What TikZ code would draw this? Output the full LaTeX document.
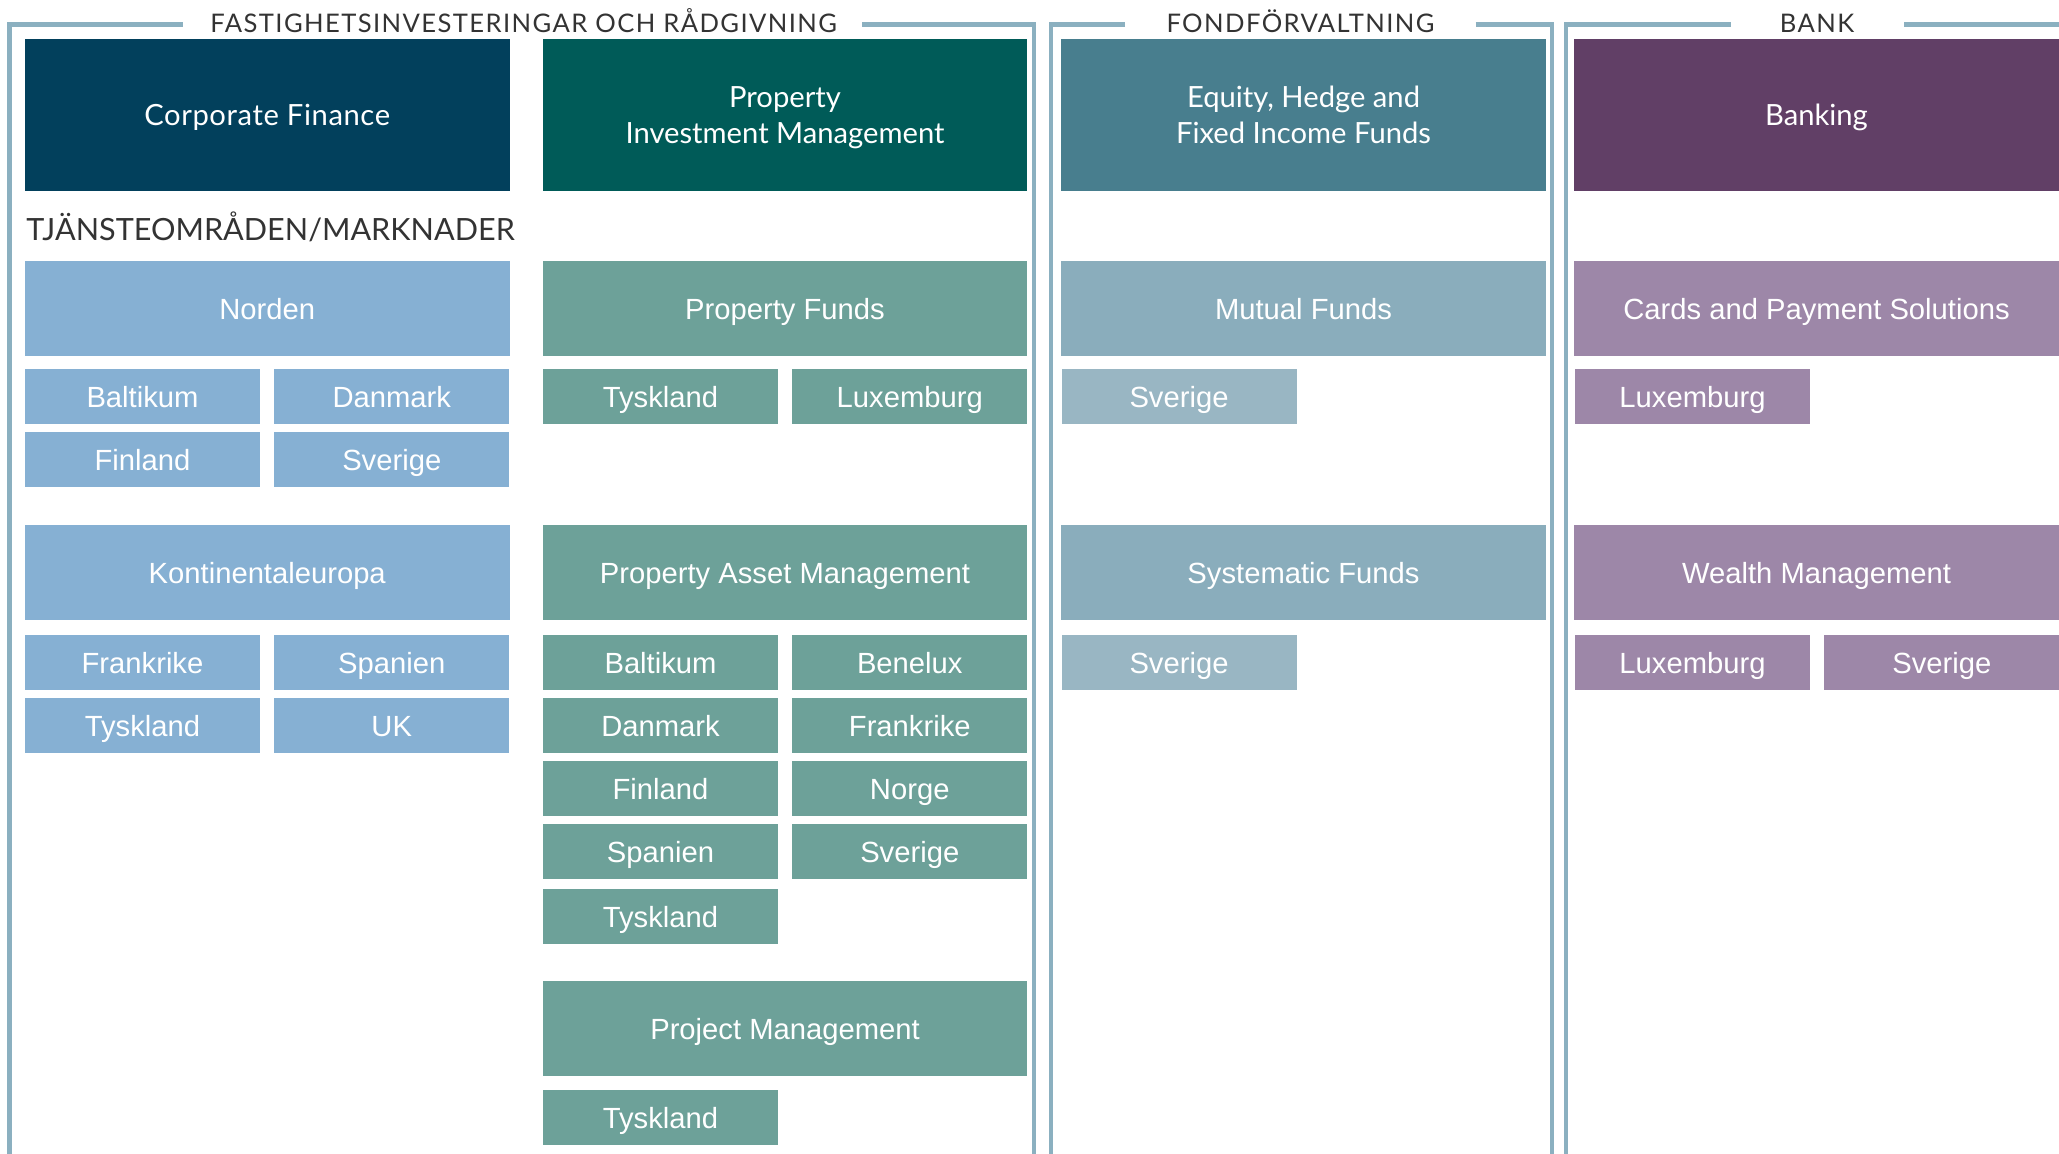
\documentclass[tikz,border=0pt]{standalone}
\usepackage{fontspec}
\setmainfont{Liberation Sans}
\newfontfamily\gillfont{Lato}
\newfontfamily\gilltitle[LetterSpace=5.5]{Lato}

\definecolor{cfnavy}{HTML}{02405C}
\definecolor{pimteal}{HTML}{005B58}
\definecolor{eqteal}{HTML}{487E8E}
\definecolor{bankpurple}{HTML}{613F66}
\definecolor{nordblue}{HTML}{86B0D3}
\definecolor{propteal}{HTML}{6DA199}
\definecolor{mutualblue}{HTML}{8AADBC}
\definecolor{sverigeblue}{HTML}{99B6C3}
\definecolor{cardpurple}{HTML}{9D87A8}
\definecolor{frameblue}{HTML}{8BB0C0}
\definecolor{titlegrey}{HTML}{333333}

\tikzstyle{topbox} = [rectangle, inner sep=0pt, outer sep=0pt, minimum width=242.25pt, minimum height=75.85pt, text=white, align=center, text depth=0pt, font=\gillfont\fontsize{14.6}{18.3}\selectfont]
\tikzstyle{headbox} = [rectangle, inner sep=0pt, outer sep=0pt, minimum width=242.25pt, minimum height=47.5pt, text=white, text height=11.45pt, text depth=0pt, font=\fontsize{14.6}{17}\selectfont]
\tikzstyle{subbox} = [rectangle, inner sep=0pt, outer sep=0pt, minimum width=117.5pt, minimum height=27.35pt, text=white, text height=11.45pt, text depth=0pt, font=\fontsize{14.6}{17}\selectfont]
\tikzstyle{title} = [inner sep=0pt, anchor=base, text=titlegrey, font=\gilltitle\fontsize{12.8}{14}\selectfont]
\tikzstyle{frame} = [draw=frameblue, line width=2.3pt]

\begin{document}
\begin{tikzpicture}[x=0.5pt, y=-0.5pt, node distance=124.625pt]
    \useasboundingbox (0,0) rectangle (2059,1154);

    % The frames with their titles
    \node [title] (fastig) at (523.6,32.3) {FASTIGHETSINVESTERINGAR OCH RÅDGIVNING};
    \node [title] (fond) at (1300.5,32.3) {FONDFÖRVALTNING};
    \node [title] (bank) at (1817,32.3) {BANK};
    \draw [frame] (182.6,24.3) -- (9.2,24.3) -- (9.2,1154);
    \draw [frame] (862,24.3) -- (1034,24.3) -- (1034,1154);
    \draw [frame] (1125,24.3) -- (1051,24.3) -- (1051,1154);
    \draw [frame] (1475.6,24.3) -- (1552,24.3) -- (1552,1154);
    \draw [frame] (1730.7,24.3) -- (1566,24.3) -- (1566,1154);
    \draw [frame] (1904,24.3) -- (2059,24.3);

    % Corporate Finance
    \node [topbox, fill=cfnavy] (corpfin) at (267.25,114.85) {\addfontfeatures{LetterSpace=2}Corporate Finance};
    \node [anchor=base west, inner sep=0pt, text=titlegrey, font=\gillfont\fontsize{15.3}{18}\selectfont] (tjanst) at (26,240.7) {TJÄNSTEOMRÅDEN/MARKNADER};
    \node [headbox, fill=nordblue] (norden) at (267.25,308.5) {Norden};
    \node [subbox, fill=nordblue] (baltikumN) at (142.5,396.35) {Baltikum};
    \node [subbox, fill=nordblue, right of=baltikumN] (danmarkN) {Danmark};
    \node [subbox, fill=nordblue] (finlandN) at (142.5,459.35) {Finland};
    \node [subbox, fill=nordblue, right of=finlandN] (sverigeN) {Sverige};
    \node [headbox, fill=nordblue] (kontinent) at (267.25,572.35) {Kontinentaleuropa};
    \node [subbox, fill=nordblue] (frankrikeK) at (142.5,662.35) {Frankrike};
    \node [subbox, fill=nordblue, right of=frankrikeK] (spanienK) {Spanien};
    \node [subbox, fill=nordblue] (tysklandK) at (142.5,725.35) {Tyskland};
    \node [subbox, fill=nordblue, right of=tysklandK] (ukK) {UK};

    % Property Investment Management
    \node [topbox, fill=pimteal] (pim) at (785,114.85) {Property\\Investment Management};
    \node [headbox, fill=propteal] (propfunds) at (785,308.5) {Property Funds};
    \node [subbox, fill=propteal] (tysklandPF) at (660.5,396.35) {Tyskland};
    \node [subbox, fill=propteal, right of=tysklandPF] (luxemburgPF) {Luxemburg};
    \node [headbox, fill=propteal] (pam) at (785,572.35) {Property Asset Management};
    \node [subbox, fill=propteal] (baltikumP) at (660.5,662.35) {Baltikum};
    \node [subbox, fill=propteal, right of=baltikumP] (beneluxP) {Benelux};
    \node [subbox, fill=propteal] (danmarkP) at (660.5,725.35) {Danmark};
    \node [subbox, fill=propteal, right of=danmarkP] (frankrikeP) {Frankrike};
    \node [subbox, fill=propteal] (finlandP) at (660.5,788.35) {Finland};
    \node [subbox, fill=propteal, right of=finlandP] (norgeP) {Norge};
    \node [subbox, fill=propteal] (spanienP) at (660.5,851.35) {Spanien};
    \node [subbox, fill=propteal, right of=spanienP] (sverigeP) {Sverige};
    \node [subbox, fill=propteal] (tysklandP) at (660.5,916.35) {Tyskland};
    \node [headbox, fill=propteal] (projmgmt) at (785,1028.35) {Project Management};
    \node [subbox, fill=propteal] (tysklandPM) at (660.5,1117.35) {Tyskland};

    % Fondförvaltning
    \node [topbox, fill=eqteal] (equity) at (1303.5,114.85) {Equity, Hedge and\\Fixed Income Funds};
    \node [headbox, fill=mutualblue] (mutual) at (1303.5,308.5) {Mutual Funds};
    \node [subbox, fill=sverigeblue] (sverigeMF) at (1179,396.35) {Sverige};
    \node [headbox, fill=mutualblue] (systematic) at (1303.5,572.35) {Systematic Funds};
    \node [subbox, fill=sverigeblue] (sverigeSF) at (1179,662.35) {Sverige};

    % Bank
    \node [topbox, fill=bankpurple] (banking) at (1816.5,114.85) {Banking};
    \node [headbox, fill=cardpurple] (cards) at (1816.5,308.5) {Cards and Payment Solutions};
    \node [subbox, fill=cardpurple] (luxemburgC) at (1692.5,396.35) {Luxemburg};
    \node [headbox, fill=cardpurple] (wealth) at (1816.5,572.35) {Wealth Management};
    \node [subbox, fill=cardpurple] (luxemburgW) at (1692.5,662.35) {Luxemburg};
    \node [subbox, fill=cardpurple, right of=luxemburgW] (sverigeW) {Sverige};

\end{tikzpicture}
\end{document}
